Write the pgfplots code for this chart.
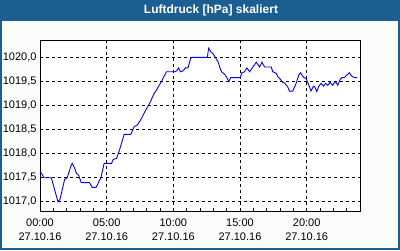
\documentclass[border=0pt]{standalone}
\usepackage{pgfplots}
\pgfplotsset{compat=1.18}
\usepackage{fontspec}
\setmainfont{Liberation Sans}
\definecolor{frameblue}{RGB}{27,94,146}
\definecolor{bgc}{RGB}{250,252,250}
\definecolor{lineblue}{RGB}{0,0,255}
\begin{document}
\begin{tikzpicture}
\path[use as bounding box] (-40pt,-39pt) rectangle (360pt,211pt);
\fill[frameblue] (-40pt,-39pt) rectangle (360pt,211pt);
\fill[bgc] (-38.3pt,-37pt) rectangle (358pt,190.5pt);
\node[text=white,font=\fontsize{12pt}{14pt}\selectfont\bfseries] at (171pt,200.8pt) {Luftdruck [hPa] skaliert};
\begin{axis}[
  at={(0pt,0pt)}, anchor=south west,
  scale only axis, width=320pt, height=171pt,
  xmin=0, xmax=24, ymin=1016.81, ymax=1020.36,
  axis background/.style={fill=white},
  axis line style={black, line width=0.8pt},
  xtick={0,5,10,15,20},
  minor xtick={1,2,3,4,6,7,8,9,11,12,13,14,16,17,18,19,21,22,23},
  xticklabels={{00:00\\27.10.16},{05:00\\27.10.16},{10:00\\27.10.16},{15:00\\27.10.16},{20:00\\27.10.16}},
  xticklabel style={align=center, font=\fontsize{11pt}{14pt}\selectfont, yshift=-4pt},
  ytick={1017,1017.5,1018,1018.5,1019,1019.5,1020},
  yticklabel style={font=\fontsize{11pt}{13pt}\selectfont},
  /pgf/number format/.cd, fixed, fixed zerofill, precision=1, use comma, 1000 sep={}, assume math mode=true,
  /pgfplots/.cd,
  tick align=inside, major tick length=3pt, minor tick length=3pt,
  xtick pos=lower, ytick pos=left,
  tick style={black, line width=0.8pt},
  ytick style={draw=none},
  grid=major,
  major grid style={black, line width=0.8pt, dash pattern=on 3pt off 3pt},
  clip=true,
]
\addplot[lineblue, line width=0.9pt] coordinates {
(0,1017.6) (0.10,1017.6) (0.30,1017.5) (0.85,1017.5) (1.35,1017.0) (1.50,1017.05)
(1.85,1017.47) (2.04,1017.5) (2.34,1017.76) (2.42,1017.8) (2.60,1017.7) (2.72,1017.6)
(2.90,1017.55) (3.09,1017.4) (3.72,1017.4) (3.91,1017.3) (4.21,1017.3) (4.47,1017.45)
(4.57,1017.5) (4.81,1017.8) (5.37,1017.8) (5.49,1017.88) (5.74,1017.9) (5.99,1018.1)
(6.31,1018.4) (6.81,1018.4) (7.06,1018.56) (7.31,1018.6) (7.61,1018.73) (7.86,1018.87)
(8.23,1019.05) (8.56,1019.25) (8.73,1019.32) (9.11,1019.5) (9.48,1019.7) (10.10,1019.7)
(10.25,1019.72) (10.40,1019.78) (10.53,1019.7) (10.73,1019.72) (10.91,1019.78) (11.10,1019.78)
(11.30,1019.98) (11.36,1020.0) (12.55,1020.0) (12.65,1020.19) (12.72,1020.16) (12.85,1020.1)
(12.97,1020.08) (13.15,1020.0) (13.35,1019.91) (13.55,1019.74) (13.65,1019.69) (13.85,1019.65)
(14.05,1019.56) (14.17,1019.5) (14.30,1019.58) (15.02,1019.58) (15.14,1019.68) (15.34,1019.7)
(15.52,1019.78) (15.72,1019.7) (15.97,1019.8) (16.22,1019.9) (16.47,1019.8) (16.65,1019.9)
(16.84,1019.8) (17.34,1019.8) (17.46,1019.7) (17.72,1019.67) (17.84,1019.6) (18.01,1019.55)
(18.21,1019.48) (18.34,1019.47) (18.59,1019.38) (18.71,1019.3) (18.96,1019.3) (19.21,1019.46)
(19.41,1019.63) (19.54,1019.68) (19.66,1019.63) (19.78,1019.58) (19.96,1019.56) (20.08,1019.48)
(20.21,1019.39) (20.32,1019.3) (20.51,1019.4) (20.62,1019.38) (20.76,1019.29) (20.91,1019.4)
(21.09,1019.46) (21.26,1019.4) (21.41,1019.46) (21.58,1019.42) (21.76,1019.48) (21.95,1019.42)
(22.16,1019.5) (22.33,1019.42) (22.51,1019.54) (22.63,1019.58) (22.83,1019.58) (23.00,1019.63)
(23.20,1019.68) (23.38,1019.61) (23.58,1019.58) (23.78,1019.58)
};
\node[anchor=east, font=\fontsize{11pt}{13pt}\selectfont, inner sep=0pt] at ([xshift=-4.5pt,yshift=-5.5pt]rel axis cs:0,1) {hPa};
\end{axis}
\end{tikzpicture}
\end{document}
